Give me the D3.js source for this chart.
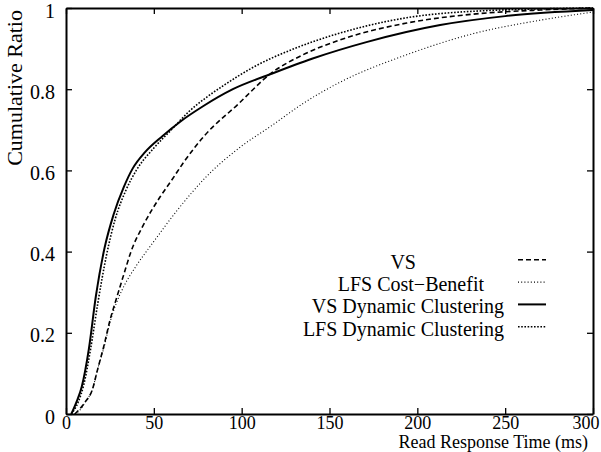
<!DOCTYPE html>
<html>
<head>
<meta charset="utf-8">
<script src="https://cdn.jsdelivr.net/npm/d3@7"></script>
<style>
  html, body { margin: 0; padding: 0; background: #fff; }
  svg { display: block; }
  text { font-family: "Liberation Serif", "DejaVu Serif", serif; fill: #000; }
</style>
</head>
<body>
<svg id="chart" width="601" height="452"></svg>
<script>
// ---- data ----
const seriesNames = ["VS", "LFS Cost\u2212Benefit", "VS Dynamic Clustering", "LFS Dynamic Clustering"];

const vsX   = [5, 7.3, 11, 15, 18, 21.7, 25, 28.4, 33, 37, 44, 53.6, 60, 67, 78.5, 97.7, 117, 135, 155, 194, 232, 270, 300];
const vsY   = [0, 0.01, 0.03, 0.06, 0.11, 0.17, 0.23, 0.28, 0.345, 0.40, 0.465, 0.535, 0.575, 0.62, 0.684, 0.762, 0.84, 0.885, 0.92, 0.963, 0.985, 0.995, 1.0];

const lfsCbX = [5, 8, 11, 15, 18, 22, 25, 28.4, 33, 40, 50, 63, 80, 100, 117, 135, 155, 194, 232, 270, 300];
const lfsCbY = [0, 0.01, 0.03, 0.06, 0.11, 0.17, 0.225, 0.27, 0.315, 0.365, 0.425, 0.5, 0.585, 0.66, 0.71, 0.765, 0.815, 0.885, 0.937, 0.97, 0.99];

const vsDcX = [3, 6, 9, 13, 17, 22, 27, 33, 38, 45, 55, 65, 78, 95, 117, 140, 171, 213, 250, 300];
const vsDcY = [0, 0.03, 0.068, 0.16, 0.29, 0.41, 0.49, 0.56, 0.605, 0.645, 0.685, 0.72, 0.758, 0.80, 0.838, 0.875, 0.916, 0.958, 0.98, 0.995];

const lfsDcX = [3, 7, 10, 14, 18, 23, 28, 34, 40, 50, 60, 70, 80, 90, 107, 130, 155, 194, 232, 300];
const lfsDcY = [0, 0.03, 0.07, 0.16, 0.27, 0.39, 0.48, 0.55, 0.60, 0.655, 0.70, 0.745, 0.78, 0.81, 0.855, 0.90, 0.937, 0.976, 0.992, 1.0];

const xTicks = [0, 50, 100, 150, 200, 250, 300];
const yTicks = [0, 0.2, 0.4, 0.6, 0.8, 1];
const yTickLabels = ["0", "0.2", "0.4", "0.6", "0.8", "1"];

// ---- layout ----
const margin = { left: 66, right: 8, top: 8, bottom: 38 };
const W = 601, H = 452;
const svg = d3.select("#chart");

const x = d3.scaleLinear().domain([0, 300]).range([margin.left, W - margin.right]);
const y = d3.scaleLinear().domain([0, 1]).range([H - margin.bottom, margin.top]);

const styles = [
  { dash: "5,3", width: 1.6 },    // VS
  { dash: "1,2.2", width: 1.1 },  // LFS Cost-Benefit
  { dash: null, width: 2.0 },     // VS Dynamic Clustering
  { dash: "1.6,1.6", width: 1.6 } // LFS Dynamic Clustering
];

const series = [
  d3.zip(vsX, vsY),
  d3.zip(lfsCbX, lfsCbY),
  d3.zip(vsDcX, vsDcY),
  d3.zip(lfsDcX, lfsDcY)
];

const line = d3.line().x(d => x(d[0])).y(d => y(d[1])).curve(d3.curveMonotoneX);

const plot = svg.append("g");
series.forEach((s, i) => {
  plot.append("path")
    .datum(s)
    .attr("fill", "none")
    .attr("stroke", "#000")
    .attr("stroke-width", styles[i].width)
    .attr("stroke-dasharray", styles[i].dash)
    .attr("d", line);
});

// ---- axes (inward ticks, mirrored) ----
const tickLen = 6;
const fs = 20;
const gB = svg.append("g").attr("transform", `translate(0,${y(0)})`)
  .call(d3.axisBottom(x).tickValues(xTicks).tickSizeInner(-tickLen).tickSizeOuter(0).tickPadding(2));
const gT = svg.append("g").attr("transform", `translate(0,${y(1)})`)
  .call(d3.axisTop(x).tickValues(xTicks).tickSizeInner(-tickLen).tickSizeOuter(0).tickFormat(""));
const gL = svg.append("g").attr("transform", `translate(${x(0)},0)`)
  .call(d3.axisLeft(y).tickValues(yTicks).tickSizeInner(-tickLen).tickSizeOuter(0).tickPadding(11)
    .tickFormat((d, i) => yTickLabels[i]));
const gR = svg.append("g").attr("transform", `translate(${x(300)},0)`)
  .call(d3.axisRight(y).tickValues(yTicks).tickSizeInner(-tickLen).tickSizeOuter(0).tickFormat(""));

[gB, gT, gL, gR].forEach(g => {
  g.select(".domain").attr("stroke", "#000").attr("stroke-width", 2);
  g.selectAll(".tick line").attr("stroke", "#000").attr("stroke-width", 1.3);
  g.selectAll("text").style("font-family", '"Liberation Serif", serif').style("font-size", fs + "px").attr("fill", "#000");
});
gB.selectAll(".tick text").style("font-size", "18px");
gB.selectAll(".tick").filter(d => d === 300).select("text").attr("text-anchor", "end").attr("dx", "6");
gL.selectAll(".tick text").attr("dy", "0.45em");

// ---- axis titles ----
svg.append("text")
  .attr("x", 588).attr("y", 448)
  .attr("text-anchor", "end")
  .style("font-size", "18px")
  .text("Read Response Time (ms)");

svg.append("text")
  .attr("transform", "translate(22,10) rotate(-90)")
  .attr("text-anchor", "end")
  .style("font-size", "22px")
  .text("Cumulative Ratio");

// ---- legend ----
const legendRight = [416, 484, 504, 504];
const legendRowFrac = [0.375, 0.32, 0.265, 0.21];
const legendSample = [518, 546];
const lg = svg.append("g");
seriesNames.forEach((name, i) => {
  const ry = y(legendRowFrac[i]);
  lg.append("text")
    .attr("x", legendRight[i]).attr("y", ry)
    .attr("dy", "0.35em")
    .attr("text-anchor", "end")
    .style("font-size", fs + "px")
    .text(name);
  lg.append("line")
    .attr("x1", legendSample[0]).attr("x2", legendSample[1])
    .attr("y1", ry - 2).attr("y2", ry - 2)
    .attr("stroke", "#000")
    .attr("stroke-width", styles[i].width)
    .attr("stroke-dasharray", styles[i].dash);
});
</script>
</body>
</html>
